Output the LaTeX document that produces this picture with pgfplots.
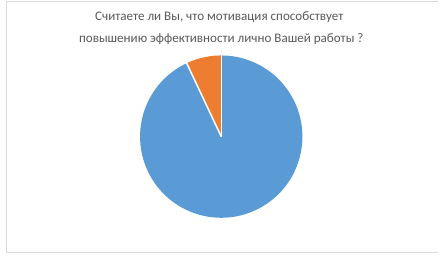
\documentclass[border=0pt]{standalone}
\usepackage{fontspec}
\setmainfont{Carlito}
\usepackage{pgfplots}
\usepackage{pgfplotstable}
\pgfplotsset{compat=1.18}

\definecolor{pieblue}{HTML}{5B9BD5}
\definecolor{pieorange}{HTML}{ED7D31}
\definecolor{titlegray}{HTML}{595959}
\definecolor{framegray}{HTML}{D9D9D9}

% Survey answers: share of respondents
\pgfplotstableread{
answer share
yes    93
no     7
}\answers

\begin{document}
\pgfplotstablegetelem{0}{share}\of\answers \let\yesshare\pgfplotsretval
\pgfplotstablegetelem{1}{share}\of\answers \let\noshare\pgfplotsretval
\pgfmathsetmacro\noangle{360*\noshare/(\yesshare+\noshare)}
\pgfmathsetmacro\splitangle{90+\noangle}
\begin{tikzpicture}
\begin{axis}[
  width=440bp, height=258bp, scale only axis,
  xmin=0, xmax=440, ymin=0, ymax=258,
  hide axis, clip=false,
]
  \path (axis cs:0,0) rectangle (axis cs:440,258);
  % chart frame
  \draw[framegray, line width=1bp] (axis cs:438,256) -- (axis cs:2,256) -- (axis cs:2,3) -- (axis cs:438,3);
  % title
  \node[anchor=base, text=titlegray, font=\fontsize{13.2bp}{16bp}\selectfont]
    at (axis cs:217,237) {Считаете ли Вы, что мотивация способствует};
  \node[anchor=base, text=titlegray, font=\fontsize{13.2bp}{16bp}\selectfont]
    at (axis cs:219,215) {повышению эффективности лично Вашей работы ?};
  % pie slices, clockwise from 12 o'clock
  \fill[pieblue] (axis cs:219,120) -- ++(\splitangle:82bp)
    arc[start angle=\splitangle, end angle=450, radius=82bp] -- cycle;
  \fill[pieorange] (axis cs:219,120) -- ++(90:82bp)
    arc[start angle=90, end angle=\splitangle, radius=82bp] -- cycle;
  \draw[white, line width=1.5bp] (axis cs:219,120) -- ++(90:82bp);
  \draw[white, line width=1.5bp] (axis cs:219,120) -- ++(\splitangle:82bp);
\end{axis}
\end{tikzpicture}
\end{document}
